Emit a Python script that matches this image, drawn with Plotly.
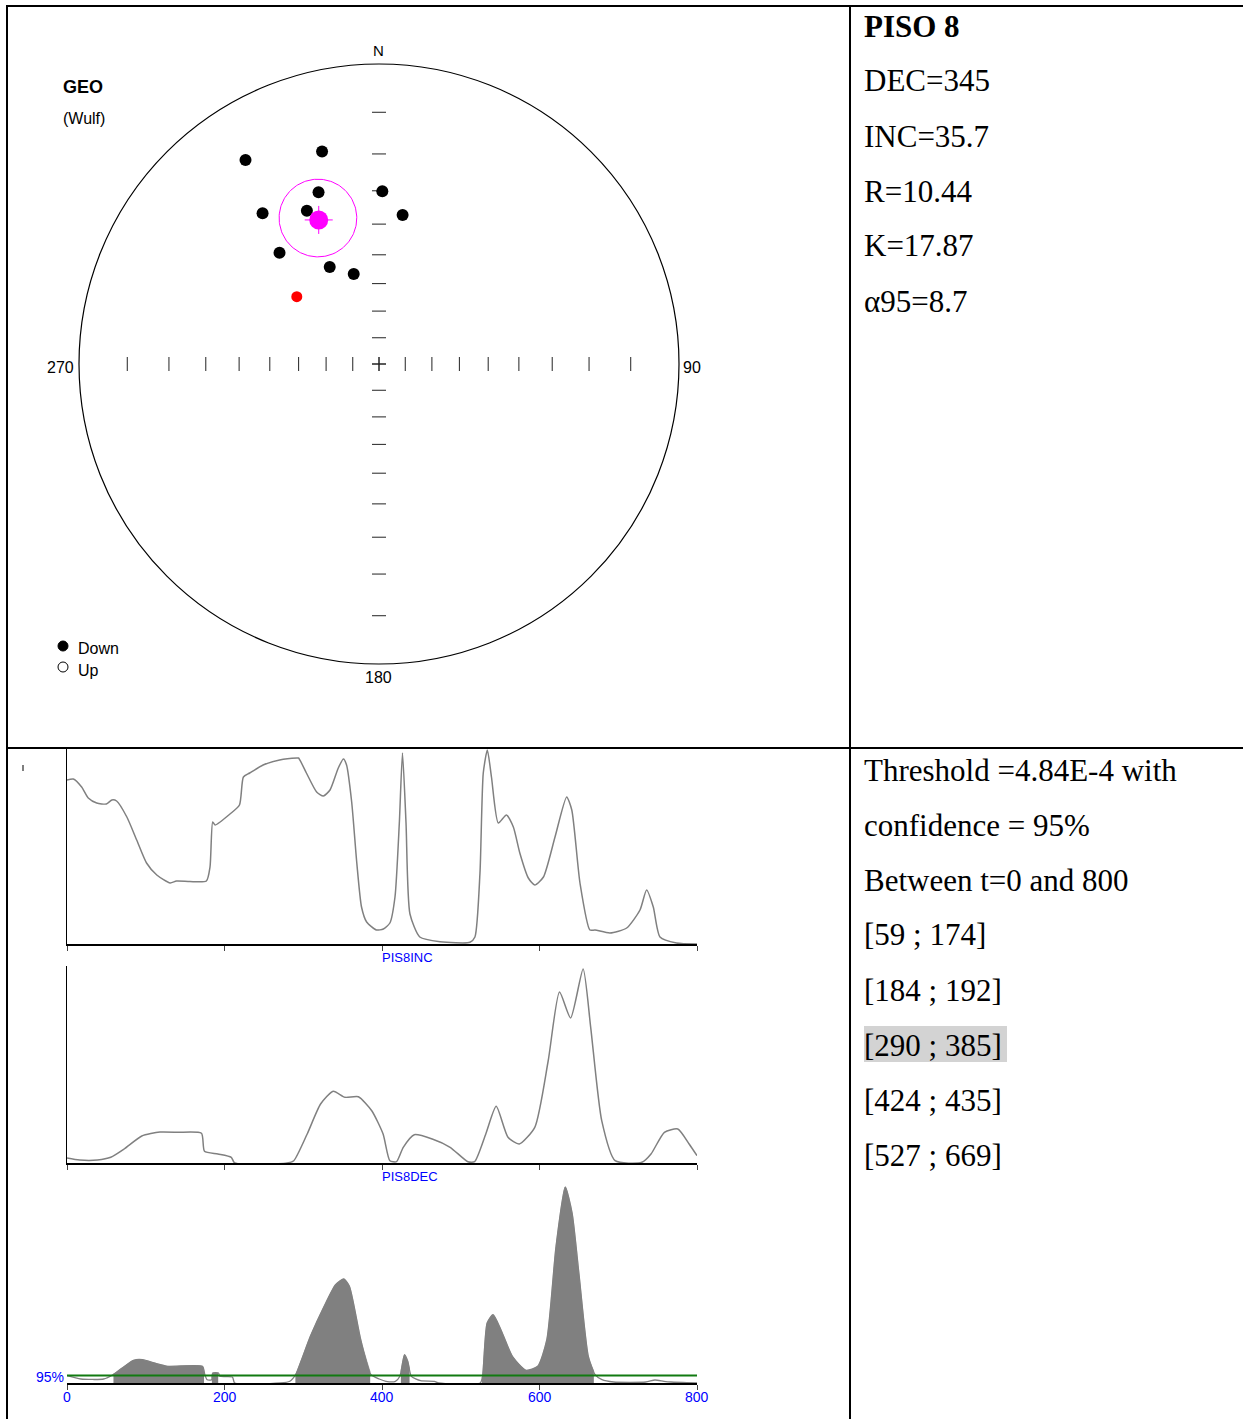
import numpy as np
import plotly.graph_objects as go

W, H = 1243, 1419

# ---- stereonet data (lower hemisphere, Wulff projection) ----
site_dec = [326.8, 345.0, 340.6, 1.1, 322.3, 334.8, 9.0, 318.2, 333.1, 344.3]
site_inc = [11.8, 17.5, 27.5, 30.1, 25.2, 31.1, 36.6, 37.1, 50.1, 55.4]
reject_dec = [309.3]
reject_inc = [51.0]
mean_dec = 337.3
mean_inc = 35.0
cone_a95 = 11.6
tick_incs = [10, 20, 30, 40, 50, 60, 70, 80]

# ---- statistics text ----
site_title = "PISO 8"
stat_lines = ["DEC=345", "INC=35.7", "R=10.44", "K=17.87", "α95=8.7"]
thr_lines = ["Threshold =4.84E-4 with", "confidence = 95%", "Between t=0 and 800"]
interval_lines = ["[59 ; 174]", "[184 ; 192]", "[290 ; 385]", "[424 ; 435]", "[527 ; 669]"]

# ---- PIS8INC curve ----
inc_t = [0, 8, 18.6, 27, 37.7, 50, 57, 63, 76, 88.5, 101, 114, 131, 139, 156, 177, 181.6, 185, 188,
         207, 219, 224, 232, 249, 270, 292, 294, 304, 317, 325.5, 334, 344.5, 351, 355, 361.5, 368,
         374, 380.5, 393, 401.7, 410, 416.5, 422, 426, 430.5, 435.5, 448, 473.7, 511.7, 518, 524.4,
         528.6, 533.8, 539, 547.7, 558, 566.8, 575, 585.8, 594, 605, 619.7, 634.5, 641, 651.4, 664,
         670.5, 689.5, 710.7, 727.6, 736, 744.5, 753, 774, 800]
inc_v = [164, 165, 157, 146, 141, 140, 144, 143, 127, 104, 81, 69, 61, 63, 62.5, 63, 77, 122, 119,
         130, 139, 167, 171, 179, 184, 186, 186, 171, 152, 148, 154, 176, 185, 179, 142, 81,
         37, 22, 14, 15, 21, 47, 121, 191, 121, 30, 7, 2.3, 1.7, 7, 71,
         171, 194, 167, 121, 129, 117, 91, 66, 59, 67, 107, 147, 134, 61, 14,
         14, 11, 16, 34, 54, 37, 7, 1, 0]

# ---- PIS8DEC curve ----
dec_t = [0, 16, 38.6, 55.6, 72.6, 95, 118, 140.6, 170.7, 174.6, 191.6, 208.6, 213, 279.5, 288, 305,
         322, 338, 353, 370, 387, 401.4, 410, 418.4, 427, 441, 463.8, 486.5, 509, 517.6, 531.8,
         545, 560, 574.3, 594, 611, 625.4, 639.5, 655.4, 665, 679, 696, 730, 741.6, 758.6, 775.6,
         790, 800]
dec_v = [5, 3, 3, 5.7, 14, 27, 31, 30.7, 29.7, 11.7, 9, 5.7, 0, 0, 2.3, 29,
         59, 71.7, 65.7, 66.3, 52.3, 29, 2.3, 1.3, 15.7, 28.3, 24, 15.7, 1.3, 1.3, 29,
         56.7, 25.7, 19, 35.7, 102, 171, 145, 194, 135.7, 42.3, 2.3, 0.7, 9, 30.7, 34,
         19, 7.3]

# ---- combined statistic with threshold ----
stat_t = [0, 17.5, 46.6, 58.3, 70, 84.5, 96, 110.8, 128, 172, 175, 178, 183.7, 185, 192.4, 194,
          210, 213, 271, 283, 290.3, 309, 326.5, 341, 351.6, 358.6, 373, 386, 396.5, 405, 417,
          422.7, 428.6, 432.7, 437.3, 449, 466.5, 472, 524.8, 527.7, 533.5, 541, 551, 565.6,
          583, 597.7, 609.3, 621, 632.7, 641.4, 650, 662, 670.6, 679.3, 694, 735, 746.6, 758,
          767, 800]
stat_v = [7.3, 4, 4, 8.3, 15, 22.7, 23.3, 20, 16.7, 16.7, 8.3, 3.3, 3.3, 10, 10, 6.7,
          6, 0, 0, 1.7, 8.3, 46.7, 76.7, 98.3, 104, 96.7, 43.3, 8.3, 4, 1.7, 1.7,
          6.7, 28.3, 21.7, 6.7, 2.3, 1.7, 0, 0, 6.7, 60, 68.3, 53.3, 26.7,
          12.7, 16.7, 43.3, 136.7, 196, 170, 110, 26.7, 8.3, 3.3, 1, 1, 3, 1.7,
          1, 0]
threshold = 7.5
intervals = [(59, 174), (184, 192), (290, 385), (424, 435), (527, 669)]
time_ticks = [0, 200, 400, 600, 800]


def fx(px):
    return px / W


def fy(py):
    return 1 - py / H


def stereo(dec, inc):
    d = np.radians(np.asarray(dec, float))
    r = np.tan(np.radians((90 - np.asarray(inc, float)) / 2))
    return r * np.sin(d), r * np.cos(d)


def cone(dec, inc, a):
    D, I, A = np.radians(dec), np.radians(inc), np.radians(a)
    m = np.array([np.cos(I) * np.cos(D), np.cos(I) * np.sin(D), np.sin(I)])
    u = np.array([-np.sin(I) * np.cos(D), -np.sin(I) * np.sin(D), np.cos(I)])
    v = np.cross(m, u)
    phi = np.linspace(0, 2 * np.pi, 181)
    p = np.cos(A) * m[:, None] + np.sin(A) * (np.cos(phi) * u[:, None] + np.sin(phi) * v[:, None])
    return stereo(np.degrees(np.arctan2(p[1], p[0])), np.degrees(np.arcsin(p[2])))


fig = go.Figure()
R_PX = 300.0
half = 7 / R_PX

# net ticks along the N-S and E-W diameters
tx, ty = [], []
for inc in tick_incs + [90]:
    for az in (0, 180):
        x, y = stereo(az, inc)
        tx += [float(x) - half, float(x) + half, None]
        ty += [float(y), float(y), None]
    for az in (90, 270):
        x, y = stereo(az, inc)
        tx += [float(x), float(x), None]
        ty += [float(y) - half, float(y) + half, None]
fig.add_trace(go.Scatter(x=tx, y=ty, mode="lines", line=dict(color="#222", width=1),
                         xaxis="x", yaxis="y", hoverinfo="skip"))

cx, cy = cone(mean_dec, mean_inc, cone_a95)
fig.add_trace(go.Scatter(x=cx, y=cy, mode="lines", line=dict(color="#ff00ff", width=1),
                         xaxis="x", yaxis="y"))

sx, sy = stereo(site_dec, site_inc)
fig.add_trace(go.Scatter(x=sx, y=sy, mode="markers", marker=dict(color="black", size=12),
                         xaxis="x", yaxis="y"))
rx, ry = stereo(reject_dec, reject_inc)
fig.add_trace(go.Scatter(x=rx, y=ry, mode="markers", marker=dict(color="#ff0000", size=11),
                         xaxis="x", yaxis="y"))
mx, my = stereo([mean_dec], [mean_inc])
mx, my = float(mx[0]), float(my[0])
arm = 14 / R_PX
fig.add_trace(go.Scatter(x=[mx - arm, mx + arm, None, mx, mx], y=[my, my, None, my - arm, my + arm],
                         mode="lines", line=dict(color="#ff00ff", width=1), xaxis="x", yaxis="y"))
fig.add_trace(go.Scatter(x=[mx], y=[my], mode="markers", marker=dict(color="#ff00ff", size=19),
                         xaxis="x", yaxis="y"))

GRAY = "#808080"
SMOOTH = dict(shape="spline", smoothing=0.6)
# panel 1 and 2 curves
fig.add_trace(go.Scatter(x=inc_t, y=inc_v, mode="lines", line=dict(color=GRAY, width=1.5, **SMOOTH),
                         xaxis="x2", yaxis="y2"))
fig.add_trace(go.Scatter(x=dec_t, y=dec_v, mode="lines", line=dict(color=GRAY, width=1.5, **SMOOTH),
                         xaxis="x3", yaxis="y3"))

# panel 3: filled significant intervals
st, sv = np.array(stat_t, float), np.array(stat_v, float)
for a, b in intervals:
    mask = (st > a) & (st < b)
    xs = [a] + st[mask].tolist() + [b]
    ys = [float(np.interp(a, st, sv))] + sv[mask].tolist() + [float(np.interp(b, st, sv))]
    fig.add_trace(go.Scatter(x=xs, y=ys, mode="lines", fill="tozeroy", fillcolor=GRAY,
                             line=dict(color=GRAY, width=0.5, **SMOOTH), xaxis="x4", yaxis="y4"))
fig.add_trace(go.Scatter(x=stat_t, y=stat_v, mode="lines", line=dict(color=GRAY, width=1.3, **SMOOTH),
                         xaxis="x4", yaxis="y4"))
fig.add_trace(go.Scatter(x=[0, 800], y=[threshold, threshold], mode="lines",
                         line=dict(color="#117a11", width=2), xaxis="x4", yaxis="y4"))

span = 350 / R_PX
hidden = dict(visible=False, showgrid=False, zeroline=False)
lay = dict(
    width=W, height=H, margin=dict(l=0, r=0, t=0, b=0, pad=0),
    paper_bgcolor="white", plot_bgcolor="rgba(0,0,0,0)", showlegend=False,
    xaxis=dict(domain=[fx(379 - 350), fx(379 + 350)], range=[-span, span], **hidden),
    yaxis=dict(domain=[fy(364 + 350), fy(364 - 350)], range=[-span, span], **hidden),
)

xbase = dict(range=[0, 800], showgrid=False, zeroline=False, showline=True, linecolor="black",
             linewidth=2, ticks="outside", ticklen=5, tickwidth=1, tickcolor="#444",
             tickvals=time_ticks, showticklabels=False, domain=[fx(67), fx(697)])
ybase = dict(showgrid=False, zeroline=False, showticklabels=False, ticks="")
lay["xaxis2"] = dict(anchor="y2", **xbase)
lay["yaxis2"] = dict(anchor="x2", domain=[fy(944), fy(748)], range=[0, 196], showline=True,
                     linecolor="black", linewidth=1, **ybase)
lay["xaxis3"] = dict(anchor="y3", **xbase)
lay["yaxis3"] = dict(anchor="x3", domain=[fy(1163), fy(966)], range=[0, 197], showline=True,
                     linecolor="black", linewidth=1, **ybase)
lay["xaxis4"] = dict(anchor="y4", **xbase)
lay["yaxis4"] = dict(anchor="x4", domain=[fy(1383), fy(1185)], range=[0, 198], showline=False, **ybase)
fig.update_layout(**lay)

# primitive circle and table borders
fig.add_shape(type="circle", xref="x", yref="y", x0=-1, x1=1, y0=-1, y1=1,
              line=dict(color="black", width=1.2))
bl = dict(color="black", width=2)
fig.add_shape(type="line", xref="paper", yref="paper", x0=fx(6), x1=1, y0=fy(6), y1=fy(6), line=bl)
fig.add_shape(type="line", xref="paper", yref="paper", x0=fx(7), x1=fx(7), y0=fy(5), y1=0, line=bl)
fig.add_shape(type="line", xref="paper", yref="paper", x0=fx(850), x1=fx(850), y0=fy(5), y1=0, line=bl)
fig.add_shape(type="line", xref="paper", yref="paper", x0=fx(7), x1=1, y0=fy(748), y1=fy(748), line=bl)
# small stray mark at the top-left of the lower cell
fig.add_shape(type="line", xref="paper", yref="paper", x0=fx(23), x1=fx(23), y0=fy(765), y1=fy(771),
              line=dict(color="#555", width=1.5))

# Down / Up key
fig.add_shape(type="circle", xref="paper", yref="paper", x0=fx(58), x1=fx(68), y0=fy(651), y1=fy(641),
              fillcolor="black", line=dict(color="black", width=1))
fig.add_shape(type="circle", xref="paper", yref="paper", x0=fx(58), x1=fx(68), y0=fy(672), y1=fy(662),
              fillcolor="white", line=dict(color="black", width=1))

# highlighted interval background
fig.add_shape(type="rect", xref="paper", yref="paper", x0=fx(864), x1=fx(1007), y0=fy(1062), y1=fy(1026),
              fillcolor="#d3d3d3", line=dict(width=0), layer="below")

SANS = "Liberation Sans, Arial, sans-serif"
SERIF = "Liberation Serif, Times New Roman, serif"


def note(text, px, py, size, family=SANS, color="black", xanchor="center", bold=False):
    fig.add_annotation(text=f"<b>{text}</b>" if bold else text, x=fx(px), y=fy(py),
                       xref="paper", yref="paper", showarrow=False, xanchor=xanchor, yanchor="middle",
                       font=dict(family=family, size=size, color=color))


# time-axis labels of the bottom panel
for t in time_ticks:
    fig.add_annotation(text=str(t), x=t, y=fy(1397), xref="x4", yref="paper", showarrow=False,
                       xanchor="center", yanchor="middle",
                       font=dict(family=SANS, size=14, color="#0000ff"))

note("N", 379, 51, 15)
note("270", 76, 367, 16, xanchor="right")
note("90", 681, 367, 16, xanchor="left")
note("180", 379, 677, 16)
note("GEO", 61, 87, 18, xanchor="left", bold=True)
note("(Wulf)", 61, 118, 16, xanchor="left")
note("Down", 76, 649, 16, xanchor="left")
note("Up", 76, 670, 16, xanchor="left")
note("PIS8INC", 407, 958, 13, color="#0000ff")
note("PIS8DEC", 410, 1176, 13, color="#0000ff")
note("95%", 66, 1377, 14, color="#0000ff", xanchor="right")

note(site_title, 862, 26, 31, family=SERIF, xanchor="left", bold=True)
for k, line in enumerate(stat_lines):
    note(line, 862, 81 + 55 * k, 31, family=SERIF, xanchor="left")
for k, line in enumerate(thr_lines + interval_lines):
    note(line, 862, 770 + 55 * k, 31, family=SERIF, xanchor="left")

fig.write_html("out.html",
               post_script="document.body.style.margin='0';"
                           "document.documentElement.style.overflow='hidden';")
